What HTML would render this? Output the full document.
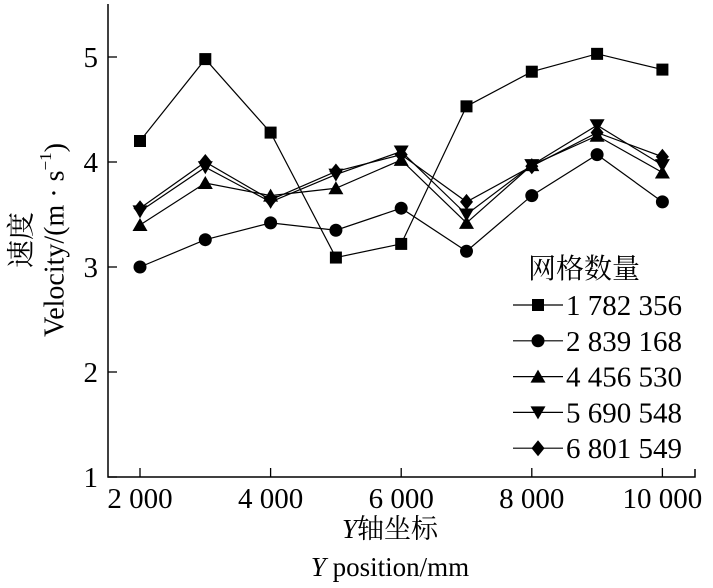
<!DOCTYPE html>
<html><head><meta charset="utf-8"><style>
body{margin:0;background:#fff;}
svg{display:block;font-family:"Liberation Serif","Noto Serif CJK SC",serif;}
</style></head><body>
<svg id="chart" width="713" height="588" viewBox="0 0 713 588">
<g id="axes"></g><g id="series"></g><g id="legend"></g>
<text x="22" y="240" font-size="28" text-anchor="middle" dominant-baseline="central" transform="rotate(-90 22 240)">速度</text>
<text x="55" y="240" font-size="28" text-anchor="middle" dominant-baseline="central" transform="rotate(-90 55 240)">Velocity/(m · s<tspan dy="-10" font-size="17">−1</tspan><tspan dy="10">)</tspan></text>
<text x="390" y="538" font-size="27" text-anchor="middle"><tspan font-style="italic">Y</tspan>轴坐标</text>
<text x="390" y="576" font-size="27" text-anchor="middle"><tspan font-style="italic">Y</tspan> position/mm</text>
</svg>
<script>
const categories=[2000,3000,4000,5000,6000,7000,8000,9000,10000];
const s1=[4.2,4.98,4.28,3.09,3.22,4.53,4.86,5.03,4.88];
const s2=[3.0,3.26,3.42,3.35,3.56,3.15,3.68,4.07,3.62];
const s3=[3.4,3.8,3.68,3.75,4.02,3.42,3.97,4.25,3.9];
const s4=[3.53,3.95,3.62,3.88,4.1,3.5,3.97,4.35,3.97];
const s5=[3.56,4.0,3.64,3.91,4.07,3.62,3.96,4.28,4.05];
const seriesNames=["1 782 356","2 839 168","4 456 530","5 690 548","6 801 549"];
const xTicks=[2000,4000,6000,8000,10000];
const xTickLabels=["2 000","4 000","6 000","8 000","10 000"];
const yTicks=[1,2,3,4,5];
const NS="http://www.w3.org/2000/svg";
const X=v=>140+(v-2000)*0.0653;
const Y=v=>477-(v-1)*105;
function mk(p,t,a){const e=document.createElementNS(NS,t);for(const k in a)e.setAttribute(k,a[k]);p.appendChild(e);return e;}
const axes=document.getElementById('axes');
let e=mk(axes,'path',{d:`M108 4 V477 H695 V469`,fill:'none',stroke:'#000','stroke-width':1.5});


xTicks.forEach((t,i)=>{
 let l=mk(axes,'line',{x1:X(t),x2:X(t),y1:477,y2:468,stroke:'#000','stroke-width':1.3});
 
 
 let tx=mk(axes,'text',{x:X(t),y:508,'font-size':29,'text-anchor':'middle'});tx.textContent=xTickLabels[i];
 
 
});
yTicks.forEach(t=>{
 let l=mk(axes,'line',{x1:108,x2:117,y1:Y(t),y2:Y(t),stroke:'#000','stroke-width':1.3});
 
 
 let tx=mk(axes,'text',{x:98,y:Y(t)+10,'font-size':29,'text-anchor':'end'});tx.textContent=t;
 
 
});
function marker(g,type,x,y){
 const s=6;
 if(type==0)return mk(g,'rect',{x:x-s,y:y-s,width:2*s,height:2*s,fill:'#000'});
 if(type==1)return mk(g,'circle',{cx:x,cy:y,r:6.5,fill:'#000'});
 if(type==2)return mk(g,'polygon',{points:`${x},${y-7} ${x-7.5},${y+6} ${x+7.5},${y+6}`,fill:'#000'});
 if(type==3)return mk(g,'polygon',{points:`${x},${y+7} ${x-7.5},${y-6} ${x+7.5},${y-6}`,fill:'#000'});
 return mk(g,'polygon',{points:`${x},${y-8} ${x-6.5},${y} ${x},${y+8} ${x+6.5},${y}`,fill:'#000'});
}
const all=[s1,s2,s3,s4,s5];
const sg=document.getElementById('series');
all.forEach((d,si)=>{
 const g=mk(sg,'g',{});
 
 
 const p=mk(g,'polyline',{points:d.map((v,i)=>X(categories[i])+','+Y(v)).join(' '),fill:'none',stroke:'#000','stroke-width':1.2});
 
 
 d.forEach((v,i)=>{const m=marker(g,si,X(categories[i]),Y(v));
  
  });
});
const lg=document.getElementById('legend');


let tt=mk(lg,'text',{x:528,y:278,'font-size':28});tt.textContent='网格数量';


seriesNames.forEach((n,i)=>{
 const y=305+i*35.8;
 const g=mk(lg,'g',{});
 
 
 mk(g,'line',{x1:513,x2:563,y1:y,y2:y,stroke:'#000','stroke-width':1.2});
 marker(g,i,538,y);
 const t=mk(g,'text',{x:566,y:y+10,'font-size':29});t.textContent=n;
});
</script>
</body></html>
